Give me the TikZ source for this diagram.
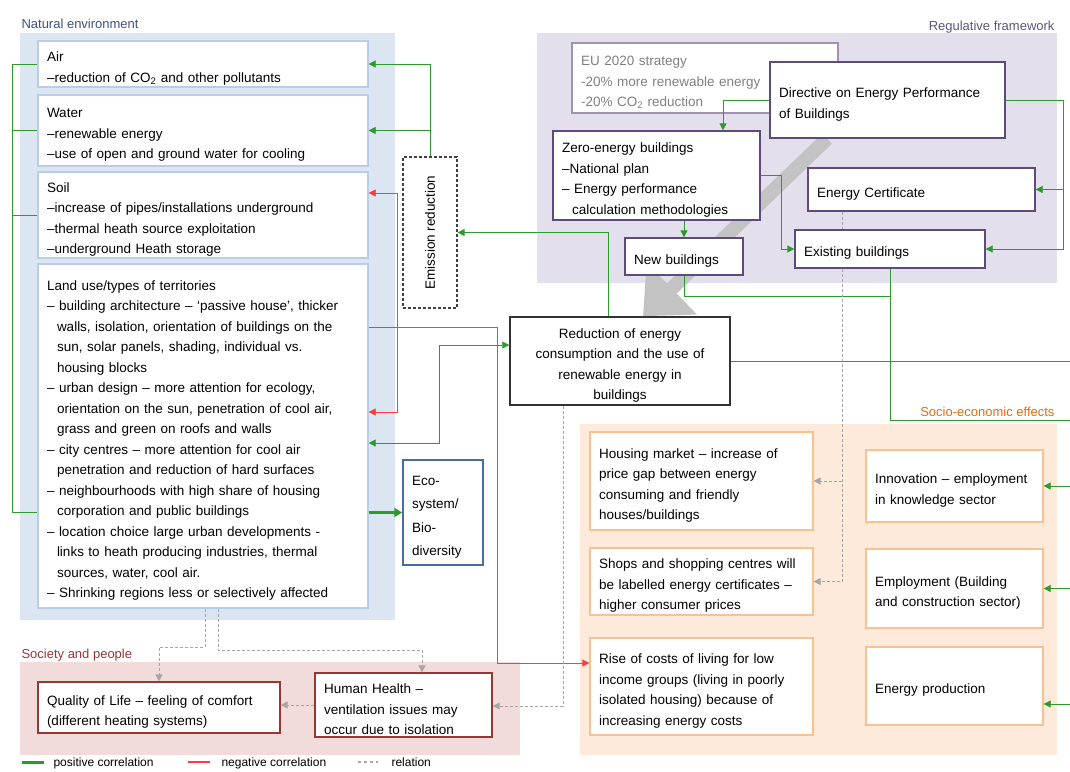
\documentclass[tikz,border=0pt]{standalone}
\usepackage{fontspec}
\setmainfont{Liberation Sans}
\usetikzlibrary{arrows.meta,positioning,calc,backgrounds}

\definecolor{envfill}{HTML}{DCE6F2}
\definecolor{envedge}{HTML}{B9CDE5}
\definecolor{envtext}{HTML}{3F4F7F}
\definecolor{regfill}{HTML}{E4DFEC}
\definecolor{regedge}{HTML}{604A7B}
\definecolor{regtext}{HTML}{5F5380}
\definecolor{socfill}{HTML}{FDEADA}
\definecolor{socedge}{HTML}{FAC090}
\definecolor{soctext}{HTML}{E46C0A}
\definecolor{pplfill}{HTML}{F2DCDB}
\definecolor{ppledge}{HTML}{953735}
\definecolor{ecoedge}{HTML}{4A6BA5}
\definecolor{posgreen}{HTML}{2E9A2E}
\definecolor{negred}{HTML}{FF3B3B}
\definecolor{relgray}{HTML}{A6A6A6}
\definecolor{bigarrow}{HTML}{C3C3C3}

\tikzset{
  box/.style={draw, fill=white, line width=1.3pt, inner xsep=9pt, inner ysep=0pt, align=left,
    execute at begin node={\rule{0pt}{18.5pt}}},
  oneline/.style={execute at begin node={}},
  envbox/.style={box, draw=envedge},
  regbox/.style={box, draw=regedge},
  socbox/.style={box, draw=socedge},
  pplbox/.style={box, draw=ppledge},
  grp/.style={font=\fontsize{13}{16}\selectfont},
  posline/.style={draw=posgreen, line width=0.8pt},
  posarr/.style={posline, ->},
  negarr/.style={draw=negred, line width=0.8pt, ->},
  relarr/.style={draw=relgray, line width=1pt, dash pattern=on 3pt off 2pt, ->},
}
\newcommand{\indnt}{\hspace*{10pt}}

\begin{document}
\begin{tikzpicture}[x=1pt,y=-1pt,font=\fontsize{13.5}{20.5}\selectfont,
  >={Triangle[width=7pt,length=7pt]}]
  \useasboundingbox (0,0) rectangle (1070,771);

  % Natural environment
  \node[grp, anchor=west, text=envtext] (envlbl) at (18,24) {Natural environment};
  \node[envbox, text width=312pt, minimum height=46pt] (air) at (203,64)
    {Air\\–reduction of CO\textsubscript{2} and other pollutants};
  \node[envbox, text width=312pt, minimum height=71pt] (water) at (203,130.5)
    {Water\\–renewable energy\\–use of open and ground water for cooling};
  \node[envbox, text width=312pt, minimum height=86pt] (soil) at (203,215)
    {Soil\\–increase of pipes/installations underground\\–thermal heath source exploitation\\–underground Heath storage};
  \node[envbox, text width=312pt, minimum height=344pt] (land) at (203,436)
    {Land use/types of territories\\
     – building architecture – ‘passive house’, thicker\\
     \indnt walls, isolation, orientation of buildings on the\\
     \indnt sun, solar panels, shading, individual vs.\\
     \indnt housing blocks\\
     – urban design – more attention for ecology,\\
     \indnt orientation on the sun, penetration of cool air,\\
     \indnt grass and green on roofs and walls\\
     – city centres – more attention for cool air\\
     \indnt penetration and reduction of hard surfaces\\
     – neighbourhoods with high share of housing\\
     \indnt corporation and public buildings\\
     – location choice large urban developments -\\
     \indnt links to heath producing industries, thermal\\
     \indnt sources, water, cool air.\\
     – Shrinking regions less or selectively affected};
  \node[box, oneline, draw=ecoedge, line width=1.5pt, text width=62pt, minimum height=105pt,
    font=\fontsize{13.5}{23.5}\selectfont] (eco) at (443,512.5) {Eco-\\system/\\Bio-\\diversity};
  \node[draw=black!75, line width=1.2pt, dash pattern=on 3pt off 2pt, fill=white,
    minimum width=54pt, minimum height=151pt, inner sep=0pt] (emis) at (430,232.5) {};
  \node[rotate=90] (emistxt) at (emis.center) {Emission reduction};
  \node[box, draw=black!80, line width=1.5pt, align=center, text width=202pt,
    minimum height=88pt] (red) at (620,361)
    {Reduction of energy\\consumption and the use of\\renewable energy in\\buildings};

  % Regulative framework
  \node[grp, anchor=east, text=regtext] (reglbl) at (1058,27) {Regulative framework};
  \node[regbox, draw=regedge!60, text=black!50, text width=248pt, minimum height=70pt] (eu) at (705,78)
    {EU 2020 strategy\\-20\% more renewable energy\\-20\% CO\textsubscript{2} reduction};
  \node[regbox, text width=217pt, minimum height=76pt] (dir) at (887.5,100)
    {Directive on Energy Performance\\of Buildings};
  \node[regbox, text width=189pt, minimum height=89pt] (zero) at (656.5,175.5)
    {Zero-energy buildings\\–National plan\\– Energy performance\\\indnt calculation methodologies};
  \node[regbox, oneline, text width=209pt, minimum height=43pt] (ec) at (921.5,189.5) {Energy Certificate};
  \node[regbox, oneline, text width=172pt, minimum height=38pt] (exist) at (890,249) {Existing buildings};
  \node[regbox, oneline, text width=100pt, minimum height=37pt] (newb) at (684,256.5) {New buildings};

  % Socio-economic effects
  \node[grp, anchor=east, text=soctext] (soclbl) at (1058,412) {Socio-economic effects};
  \node[socbox, text width=205pt, minimum height=98pt] (house) at (701.5,481)
    {Housing market – increase of\\price gap between energy\\consuming and friendly\\houses/buildings};
  \node[socbox, text width=205pt, minimum height=67pt] (shops) at (701.5,581.5)
    {Shops and shopping centres will\\be labelled energy certificates –\\higher consumer prices};
  \node[socbox, text width=205pt, minimum height=97pt] (rise) at (701.5,686.5)
    {Rise of costs of living for low\\income groups (living in poorly\\isolated housing) because of\\increasing energy costs};
  \node[socbox, text width=159pt, minimum height=72pt] (innov) at (954.5,486)
    {Innovation – employment\\in knowledge sector};
  \node[socbox, text width=159pt, minimum height=79pt] (employ) at (954.5,588.5)
    {Employment (Building\\and construction sector)};
  \node[socbox, oneline, text width=159pt, minimum height=78pt] (eprod) at (954.5,686) {Energy production};

  % Society and people
  \node[grp, anchor=west, text=ppledge] (ppllbl) at (18,655) {Society and people};
  \node[pplbox, text width=224pt, minimum height=51pt] (qol) at (159,707.5)
    {Quality of Life – feeling of comfort\\(different heating systems)};
  \node[pplbox, text width=159pt, minimum height=64pt] (hh) at (403.5,705)
    {Human Health –\\ventilation issues may\\occur due to isolation};

  % green links
  \draw[posarr] (emis.north) |- (air.east);
  \draw[posarr] (emis.north) |- (water.east);
  \coordinate (re) at (608,234);
  \draw[posarr] (red.north -| re) |- (emis.east);
  \coordinate (lb) at (12,512);
  \draw[posline] (air.west) -| (lb) -- (lb -| land.west);
  \draw[posline] (water.west) -- (water.west -| lb);
  \draw[posline] (soil.west) -- (soil.west -| lb);
  \draw[posline, line width=2.5pt, -{Triangle[width=9pt,length=8pt]}] (land.east |- eco.west) -- (eco.west);
  \coordinate (g1) at (439,345);
  \coordinate (g2) at (439,443);
  \draw[posline, <->] (land.east |- g2) -- (g2) -- (g1) -- (red.west |- g1);
  \coordinate (dz) at (723,100);
  \draw[posarr] (dir.west) -- (dz) -- (dz |- zero.north);
  \coordinate (db) at (1063,100);
  \draw[posarr] (dir.east) -- (db) |- (exist.east);
  \draw[posarr] (db |- ec.east) -- (ec.east);
  \draw[posarr] (zero.south -| newb.north) -- (newb.north);
  \coordinate (ze) at (781,175.5);
  \draw[posarr] (zero.east) -- (ze) |- (exist.west);
  \coordinate (sj) at (890,296);
  \coordinate (se) at (1070,420);
  \draw[posline] (newb.south) |- (sj);
  \draw[posline] (exist.south) |- (se);
  \coordinate (sr) at (1070,361);
  \draw[posline] (red.east) -- (sr);
  \coordinate (ea) at (1070,486);
  \coordinate (eb) at (1070,588.5);
  \coordinate (ek) at (1070,704);
  \draw[posarr] (ea) -- (innov.east);
  \draw[posarr] (eb) -- (employ.east);
  \draw[posarr] (ek) -- (eprod.east |- ek);

  % red links
  \coordinate (rs) at (397,193);
  \coordinate (rl) at (397,412);
  \coordinate (rc) at (497,327);
  \coordinate (rr) at (497,663);
  \draw[negarr, <->] (soil.east |- rs) -- (rs) -- (rl) -- (land.east |- rl);
  \draw[negarr] (land.east |- rc) -- (rc) -- (rr) -- (rise.west |- rr);

  % relations
  \coordinate (cv) at (842,0);
  \draw[relarr, -] (ec.south -| cv) -- (exist.north -| cv);
  \draw[relarr] (exist.south -| cv) |- (shops.east);
  \draw[relarr] (cv |- house.east) -- (house.east);
  \coordinate (hv) at (563,706);
  \draw[relarr] (red.south -| hv) -- (hv) -- (hh.east |- hv);
  \coordinate (lq) at (205,647);
  \draw[relarr] (land.south -| lq) -- (lq) -| (qol.north);
  \coordinate (lh) at (218,650);
  \coordinate (lh2) at (422,650);
  \draw[relarr] (land.south -| lh) -- (lh) -- (lh2) -- (lh2 |- hh.north);
  \draw[relarr] (hh.west) -- (hh.west -| qol.east);

  % legend
  \begin{scope}[font=\fontsize{12}{14}\selectfont]
    \draw[posline, line width=3pt] (22,762) -- (44,762);
    \node[anchor=base west] (lgpos) at (50,766) {positive correlation};
    \draw[draw=negred, line width=1.5pt] (188,762) -- (210,762);
    \node[anchor=base west] (lgneg) at (218,766) {negative correlation};
    \draw[draw=relgray, line width=1.5pt, dash pattern=on 3pt off 3pt] (358,762) -- (378,762);
    \node[anchor=base west] (lgrel) at (388,766) {relation};
  \end{scope}

  % group areas and big arrow
  \begin{scope}[on background layer]
    \fill[envfill] (20,33) rectangle (395,620);
    \fill[regfill] (537,33) rectangle (1057,283);
    \fill[socfill] (580,424) rectangle (1057,755);
    \fill[pplfill] (20,662) rectangle (520,755);
    \draw[draw=bigarrow, line width=14pt, -{Triangle[width=70pt,length=40pt]}]
      ([xshift=-60.5pt]dir.south) -- ([xshift=23pt]red.north);
  \end{scope}
\end{tikzpicture}
\end{document}
